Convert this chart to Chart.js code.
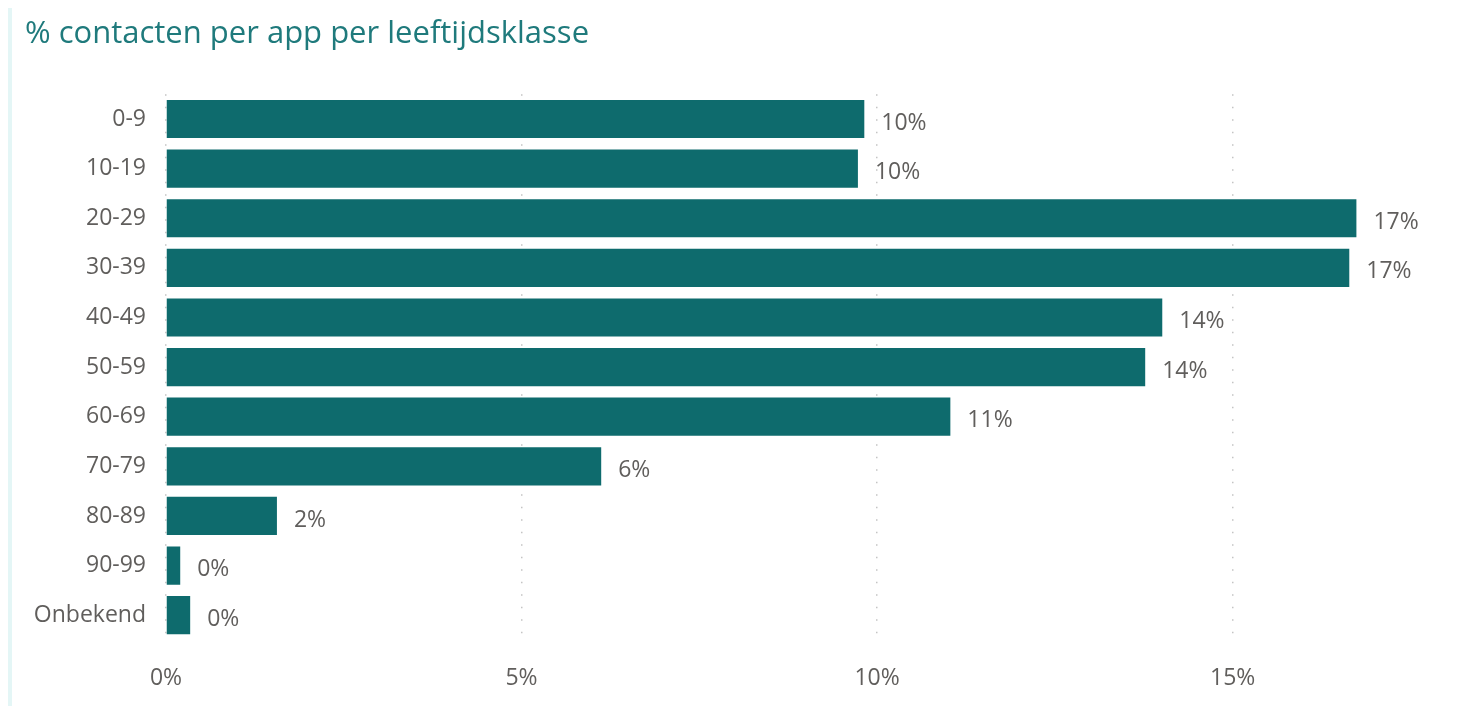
<!DOCTYPE html>
<html>
<head>
<meta charset="utf-8">
<script src="https://cdn.jsdelivr.net/npm/chart.js@4"></script>
<style>
  html, body { margin: 0; padding: 0; background: #fff; }
  #wrap { position: relative; width: 1461px; height: 706px; }
  #strip { position: absolute; left: 8px; top: 8px; width: 4px; height: 698px; background: #e4f6f6; }
  canvas { position: absolute; left: 0; top: 0; }
</style>
</head>
<body>
<div id="wrap">
  <div id="strip"></div>
  <canvas id="ageChart" width="1461" height="706"></canvas>
</div>
<script>
const ageGroups = ['0-9', '10-19', '20-29', '30-39', '40-49', '50-59', '60-69', '70-79', '80-89', '90-99', 'Onbekend'];
const contactPct = [9.82, 9.73, 16.74, 16.64, 14.01, 13.77, 11.03, 6.12, 1.56, 0.2, 0.34];
const xTicks = [0, 5, 10, 15];

const FONT = '"Segoe UI", "Open Sans", sans-serif';
const TEXT_GREY = '#605e5c';

// labels at the end of each bar, rounded like the original
const barLabels = {
  id: 'barLabels',
  afterDatasetsDraw(chart) {
    const ctx = chart.ctx;
    const meta = chart.getDatasetMeta(0);
    ctx.save();
    ctx.font = '23px ' + FONT;
    ctx.fillStyle = TEXT_GREY;
    ctx.textBaseline = 'middle';
    ctx.textAlign = 'left';
    meta.data.forEach((bar, i) => {
      ctx.fillText(Math.round(contactPct[i]) + '%', bar.x + 17, bar.y + 4);
    });
    ctx.restore();
  }
};

new Chart(document.getElementById('ageChart'), {
  type: 'bar',
  data: {
    labels: ageGroups,
    datasets: [{
      data: contactPct,
      backgroundColor: '#0e6b6d',
      categoryPercentage: 1,
      barPercentage: 0.77
    }]
  },
  options: {
    indexAxis: 'y',
    responsive: false,
    animation: false,
    layout: { padding: { left: 25, right: 15, top: 0, bottom: 0 } },
    plugins: {
      legend: { display: false },
      tooltip: { enabled: false },
      title: {
        display: true,
        text: '% contacten per app per leeftijdsklasse',
        align: 'start',
        color: '#1f7a7c',
        font: { family: FONT, size: 31, weight: 'normal' },
        padding: { top: 16, bottom: 41 }
      }
    },
    scales: {
      x: {
        min: 0,
        max: 18,
        afterBuildTicks(scale) {
          scale.ticks = xTicks.map(v => ({ value: v }));
        },
        afterFit(scale) { scale.height = 66; },
        border: { display: false, dash: [1.5, 11] },
        grid: {
          color: '#c4c4c4',
          lineWidth: 1.5,
          drawTicks: false
        },
        ticks: {
          padding: 25,
          color: TEXT_GREY,
          font: { family: FONT, size: 23 },
          callback: v => v + '%'
        }
      },
      y: {
        afterFit(scale) { scale.width = 141; },
        border: { display: false },
        grid: { display: false },
        ticks: {
          padding: 12,
          color: TEXT_GREY,
          font: { family: FONT, size: 23 }
        }
      }
    }
  },
  plugins: [barLabels]
});
</script>
</body>
</html>
